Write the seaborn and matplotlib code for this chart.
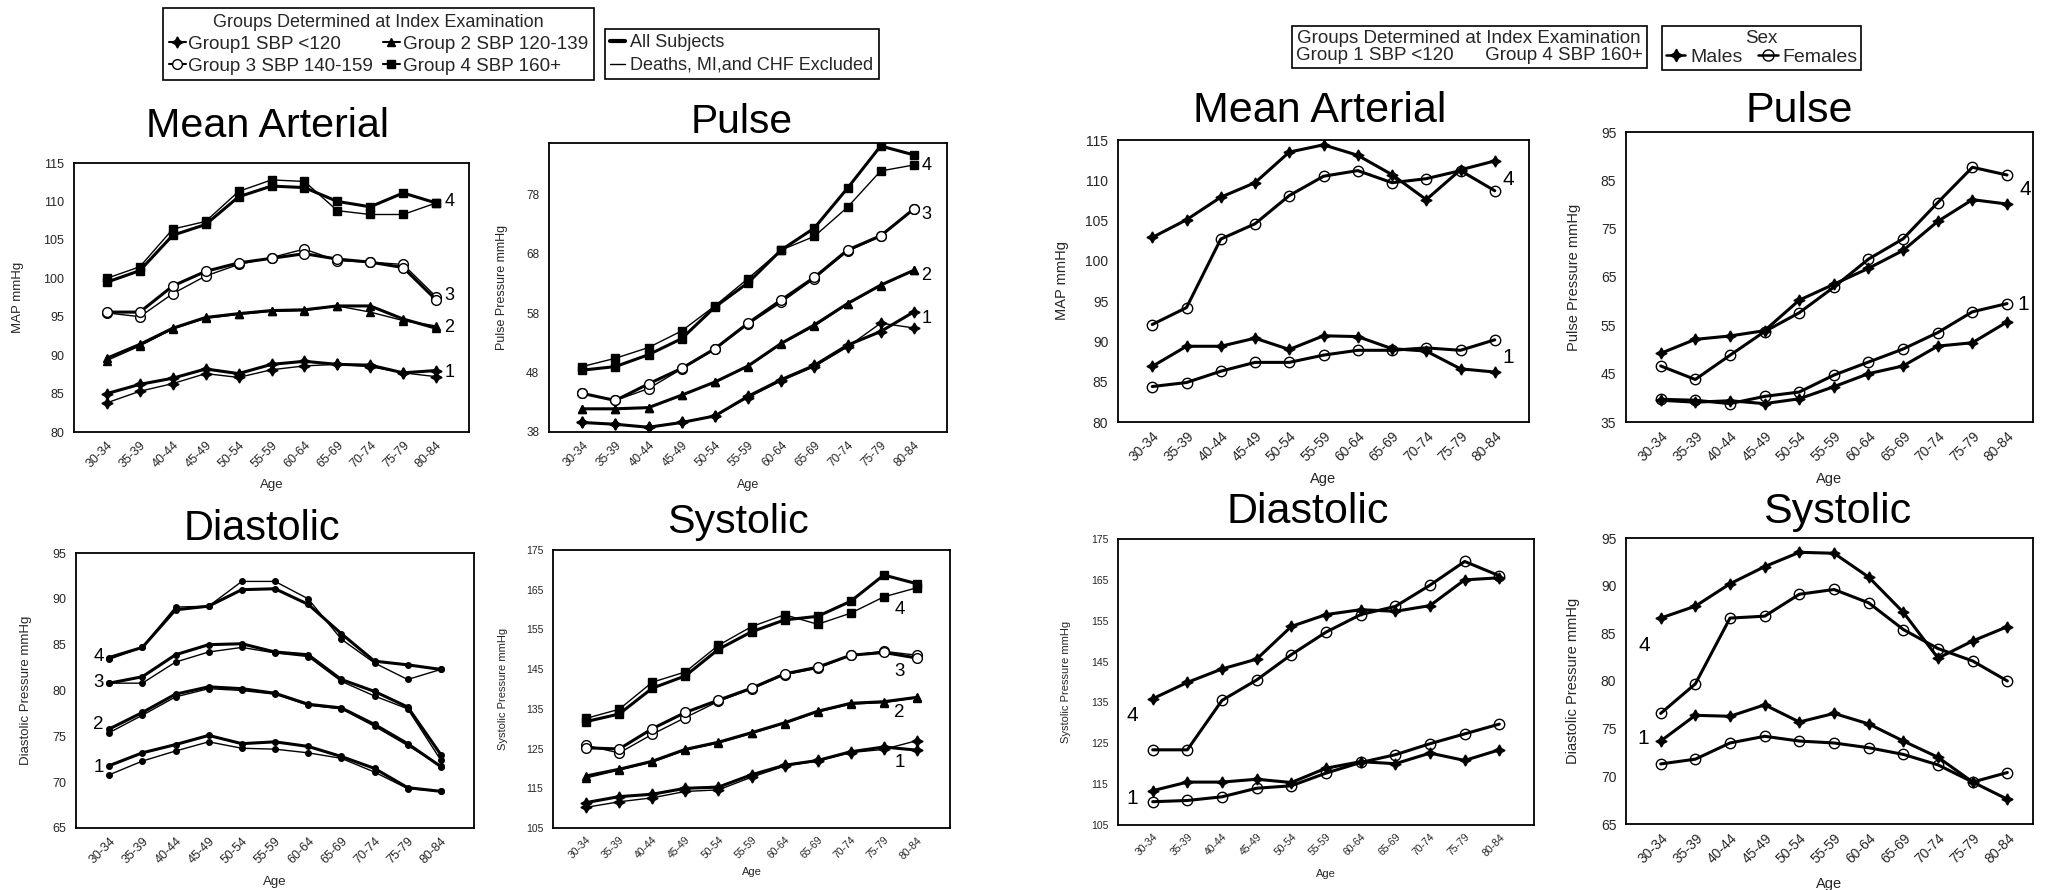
import numpy as np
import pandas as pd
import matplotlib
matplotlib.use("Agg")
import matplotlib.pyplot as plt
from matplotlib.lines import Line2D
import seaborn as sns

# ---------------- data ----------------
AGES = ["30-34", "35-39", "40-44", "45-49", "50-54", "55-59",
        "60-64", "65-69", "70-74", "75-79", "80-84"]

# Left figure: groups 1..4, "All Subjects" (thick) and "Deaths, MI, CHF excluded" (thin)
MAP_ALL = [
    [85.0, 86.2, 87.0, 88.2, 87.6, 88.8, 89.2, 88.8, 88.7, 87.7, 88.0],
    [89.6, 91.4, 93.5, 94.9, 95.4, 95.8, 95.9, 96.4, 96.4, 94.7, 93.5],
    [95.6, 95.6, 99.0, 100.9, 102.0, 102.6, 103.2, 102.5, 102.1, 101.4, 97.2],
    [99.5, 101.0, 105.6, 107.0, 110.6, 112.0, 111.8, 110.0, 109.3, 111.1, 109.8],
]
MAP_EXC = [
    [83.8, 85.3, 86.3, 87.6, 87.1, 88.1, 88.6, 88.8, 88.5, 87.7, 87.2],
    [89.3, 91.2, 93.4, 94.8, 95.3, 95.7, 95.8, 96.4, 95.6, 94.5, 93.8],
    [95.5, 95.0, 98.0, 100.3, 101.8, 102.7, 103.8, 102.3, 102.1, 101.8, 97.6],
    [100.0, 101.5, 106.4, 107.4, 111.3, 112.8, 112.6, 108.8, 108.3, 108.3, 109.8],
]
PP_ALL = [
    [39.6, 39.3, 38.8, 39.6, 40.7, 44.0, 46.8, 49.2, 52.6, 54.9, 58.2],
    [41.9, 41.9, 42.1, 44.2, 46.4, 49.1, 52.9, 56.0, 59.6, 62.7, 65.2],
    [44.5, 43.3, 46.1, 48.7, 52.0, 56.3, 60.2, 64.0, 68.6, 71.0, 75.5],
    [48.4, 49.0, 51.0, 53.7, 59.0, 63.1, 68.6, 72.3, 79.0, 86.1, 84.6],
]
PP_EXC = [
    [39.6, 39.3, 38.8, 39.6, 40.7, 43.8, 46.6, 49.0, 52.3, 56.3, 55.5],
    [41.9, 41.9, 42.1, 44.2, 46.4, 49.0, 52.8, 55.8, 59.5, 62.6, 65.2],
    [44.5, 43.3, 45.3, 48.6, 51.9, 56.1, 59.8, 63.8, 68.4, 70.9, 75.5],
    [49.0, 50.4, 52.2, 55.0, 59.2, 63.8, 68.6, 70.9, 75.8, 81.9, 82.9],
]
DBP_ALL = [
    [71.8, 73.2, 74.1, 75.1, 74.2, 74.4, 73.9, 72.8, 71.5, 69.4, 69.0],
    [75.8, 77.6, 79.6, 80.4, 80.2, 79.7, 78.5, 78.1, 76.3, 74.2, 71.7],
    [80.8, 81.5, 83.9, 85.0, 85.1, 84.2, 83.9, 81.2, 79.9, 78.2, 73.0],
    [83.6, 84.7, 88.8, 89.2, 91.0, 91.1, 89.4, 86.2, 83.2, 82.8, 82.3],
]
DBP_EXC = [
    [70.8, 72.3, 73.4, 74.4, 73.7, 73.6, 73.2, 72.6, 71.1, 69.3, 69.0],
    [75.4, 77.3, 79.3, 80.2, 80.0, 79.6, 78.4, 78.0, 76.1, 74.0, 71.8],
    [80.8, 80.8, 83.1, 84.2, 84.7, 84.1, 83.7, 81.0, 79.4, 78.0, 72.4],
    [83.4, 84.7, 89.1, 89.2, 91.9, 91.9, 90.0, 85.6, 83.0, 81.2, 82.3],
]
SBP_ALL = [
    [111.4, 112.9, 113.5, 115.0, 115.3, 118.4, 120.8, 122.0, 124.2, 125.4, 124.6],
    [118.1, 119.8, 121.8, 124.8, 126.6, 129.0, 131.5, 134.4, 136.4, 136.8, 137.9],
    [125.2, 124.9, 130.0, 134.1, 137.2, 140.2, 143.8, 145.5, 148.5, 149.2, 147.8],
    [131.8, 133.7, 140.2, 143.3, 150.0, 154.4, 157.4, 158.3, 162.1, 168.7, 166.5],
]
SBP_EXC = [
    [110.2, 111.6, 112.6, 114.2, 114.6, 117.8, 120.6, 121.9, 124.0, 124.8, 127.0],
    [117.6, 119.6, 121.6, 124.6, 126.4, 128.8, 131.3, 134.2, 136.2, 136.6, 137.8],
    [125.8, 123.9, 128.6, 132.8, 136.9, 140.0, 143.6, 145.2, 148.5, 149.5, 148.5],
    [132.6, 134.9, 141.7, 144.3, 151.0, 155.7, 158.7, 156.3, 159.1, 163.2, 165.5],
]

# Right figure: groups 1 and 4 by sex
R_MAP_M1 = [86.9, 89.4, 89.4, 90.4, 89.0, 90.7, 90.6, 89.1, 88.8, 86.6, 86.2]
R_MAP_F1 = [84.4, 84.9, 86.3, 87.4, 87.4, 88.3, 88.9, 88.9, 89.2, 88.9, 90.2]
R_MAP_M4 = [102.9, 105.1, 107.9, 109.7, 113.5, 114.4, 113.1, 110.7, 107.6, 111.3, 112.4]
R_MAP_F4 = [92.1, 94.2, 102.7, 104.6, 108.1, 110.5, 111.2, 109.7, 110.2, 111.2, 108.7]

R_PP_M1 = [39.5, 39.1, 39.4, 38.8, 39.8, 42.3, 45.0, 46.6, 50.7, 51.4, 55.7]
R_PP_F1 = [39.7, 39.5, 38.8, 40.3, 41.2, 44.7, 47.4, 50.1, 53.5, 57.8, 59.5]
R_PP_M4 = [49.2, 52.1, 52.8, 53.9, 60.2, 63.5, 66.8, 70.5, 76.5, 81.0, 80.1]
R_PP_F4 = [46.6, 43.8, 48.8, 53.7, 57.6, 62.9, 68.7, 72.9, 80.4, 87.7, 86.1]

R_SBP_M1 = [113.4, 115.5, 115.5, 116.2, 115.4, 118.9, 120.5, 120.0, 122.6, 120.8, 123.4]
R_SBP_F1 = [110.7, 111.0, 111.9, 114.0, 114.6, 117.7, 120.3, 122.2, 124.9, 127.3, 129.7]
R_SBP_M4 = [135.9, 139.9, 143.2, 145.6, 153.6, 156.5, 157.7, 157.3, 158.7, 165.0, 165.5]
R_SBP_F4 = [123.4, 123.4, 135.5, 140.5, 146.7, 152.2, 156.5, 158.5, 163.7, 169.5, 166.0]

R_DBP_M1 = [73.7, 76.4, 76.3, 77.5, 75.7, 76.6, 75.5, 73.7, 72.0, 69.4, 67.6]
R_DBP_F1 = [71.3, 71.8, 73.5, 74.2, 73.7, 73.5, 73.0, 72.3, 71.2, 69.4, 70.4]
R_DBP_M4 = [86.6, 87.85, 90.2, 92.0, 93.5, 93.4, 90.9, 87.2, 82.4, 84.2, 85.7]
R_DBP_F4 = [76.6, 79.7, 86.6, 86.8, 89.1, 89.6, 88.2, 85.4, 83.4, 82.1, 80.0]

GROUP_LABELS = ["Group1 SBP <120", "Group 2 SBP 120-139",
                "Group 3 SBP 140-159", "Group 4 SBP 160+"]

# ---------------- style ----------------
sns.set_style("white")
plt.rcParams["font.family"] = ["Liberation Sans", "DejaVu Sans"]

W, H = 2049, 890
fig = plt.figure(figsize=(W / 100, H / 100), dpi=100)
fig.patch.set_facecolor("white")

X = np.arange(len(AGES))

STAR4 = (4, 1, 0)
GROUP_STYLE = [  # marker, facecolor, size
    (STAR4, "black", 8),
    ("^", "black", 6),
    ("o", "white", 7),
    ("s", "black", 6),
]


def add_axes_px(l, t, r, b):
    return fig.add_axes([l / W, 1 - b / H, (r - l) / W, (b - t) / H])


def draw_line(ax, vals, marker, mfc, ms, lw):
    df = pd.DataFrame({"age": X, "value": vals})
    sns.lineplot(data=df, x="age", y="value", ax=ax, color="black", lw=lw,
                 marker=marker, markersize=ms, markerfacecolor=mfc,
                 markeredgecolor="black", markeredgewidth=1.0,
                 estimator=None, sort=False, legend=False)


def style_axes(ax, ylim, yticks, ylabel, fs, ylab_x, xlab_y, xright=11.0):
    ax.set_xlim(-1, xright)
    ax.set_ylim(*ylim)
    ax.set_yticks(yticks)
    ax.set_yticklabels([str(t) for t in yticks], fontsize=fs)
    ax.set_xticks(X)
    ax.set_xticklabels(AGES, rotation=45, ha="right", rotation_mode="anchor",
                       fontsize=fs)
    ax.tick_params(axis="both", length=0)
    ax.tick_params(axis="y", pad=7)
    ax.tick_params(axis="x", pad=5)
    ax.set_ylabel(ylabel, fontsize=fs + 0.5)
    ax.set_xlabel("Age", fontsize=fs + 0.5)
    ax.yaxis.set_label_coords(ylab_x, 0.5)
    ax.xaxis.set_label_coords(0.5, xlab_y)
    for sp in ax.spines.values():
        sp.set_visible(True)
        sp.set_color("black")
        sp.set_linewidth(1.3)
    ax.grid(False)


def group_labels(ax, items, fs, ha):
    for txt, x, y in items:
        ax.text(x, y, txt, fontsize=fs, ha=ha, va="center", color="black")


def title(cx, baseline, text, fs):
    fig.text(cx / W, 1 - baseline / H, text, ha="center", va="baseline",
             fontsize=fs, color="black")


def left_panel(ax, all_vals, exc_vals, small_dots=False):
    for g in range(4):
        marker, mfc, ms = GROUP_STYLE[g]
        if small_dots:
            marker, mfc, ms = "o", "black", 4
        draw_line(ax, exc_vals[g], marker, mfc, ms, 1.0)
        draw_line(ax, all_vals[g], marker, mfc, ms, 2.2)


# ---- Left: Mean Arterial ----
ax = add_axes_px(74, 163, 469, 432)
left_panel(ax, MAP_ALL, MAP_EXC)
style_axes(ax, (80, 115), list(range(80, 116, 5)), "MAP mmHg", 9, -0.127, -0.175)
group_labels(ax, [("4", 10.25, 110.0), ("3", 10.25, 97.8), ("2", 10.25, 93.6),
                  ("1", 10.25, 87.7)], 13, "left")
title(267, 137, "Mean Arterial", 29.7)

# ---- Left: Pulse ----
ax = add_axes_px(549, 143, 947, 432)
left_panel(ax, PP_ALL, PP_EXC)
style_axes(ax, (38, 86.6), [38, 48, 58, 68, 78], "Pulse Pressure mmHg", 8.5,
           -0.104, -0.163)
group_labels(ax, [("4", 10.22, 82.9), ("3", 10.22, 74.5), ("2", 10.22, 64.4),
                  ("1", 10.22, 57.1)], 13, "left")
title(742, 133, "Pulse", 29.3)

# ---- Left: Diastolic ----
ax = add_axes_px(76, 553, 474, 828)
left_panel(ax, DBP_ALL, DBP_EXC, small_dots=True)
style_axes(ax, (65, 95), list(range(65, 96, 5)), "Diastolic Pressure mmHg", 9,
           -0.111, -0.175)
group_labels(ax, [("4", -0.17, 83.7), ("3", -0.17, 80.9), ("2", -0.17, 76.3),
                  ("1", -0.17, 71.6)], 13.5, "right")
title(262, 540, "Diastolic", 29.9)

# ---- Left: Systolic ----
ax = add_axes_px(553, 550, 950, 828)
left_panel(ax, SBP_ALL, SBP_EXC)
style_axes(ax, (105, 175), list(range(105, 176, 10)), "Systolic Pressure mmHg", 7.5,
           -0.114, -0.14)
group_labels(ax, [("4", 9.48, 160.0), ("3", 9.48, 144.3), ("2", 9.48, 134.1),
                  ("1", 9.48, 121.4)], 13.5, "center")
title(738, 533, "Systolic", 29.6)


# ---- Right panels ----
def right_panel(ax, m1, f1, m4, f4):
    for vals in (m4, m1):
        draw_line(ax, vals, STAR4, "black", 8, 2.2)
    for vals in (f4, f1):
        draw_line(ax, vals, "o", "none", 7.5, 2.2)


ax = add_axes_px(1118, 140, 1529, 422)
right_panel(ax, R_MAP_M1, R_MAP_F1, R_MAP_M4, R_MAP_F4)
style_axes(ax, (80, 115), list(range(80, 116, 5)), "MAP mmHg", 10, -0.12, -0.177)
group_labels(ax, [("4", 10.22, 110.1), ("1", 10.22, 88.0)], 15, "left")
title(1320, 122, "Mean Arterial", 31)

ax = add_axes_px(1626, 132, 2033, 422)
right_panel(ax, R_PP_M1, R_PP_F1, R_PP_M4, R_PP_F4)
style_axes(ax, (35, 95), list(range(35, 96, 10)), "Pulse Pressure mmHg", 10,
           -0.111, -0.172, xright=10.75)
group_labels(ax, [("4", 10.36, 83.2), ("1", 10.29, 59.4)], 15, "left")
title(1799, 122, "Pulse", 31)

ax = add_axes_px(1118, 539, 1534, 825)
right_panel(ax, R_SBP_M1, R_SBP_F1, R_SBP_M4, R_SBP_F4)
style_axes(ax, (105, 175), list(range(105, 176, 10)), "Systolic Pressure mmHg", 7.5,
           -0.113, -0.154)
group_labels(ax, [("4", -0.6, 131.8), ("1", -0.6, 111.5)], 15, "center")
title(1308, 523, "Diastolic", 31)

ax = add_axes_px(1626, 538, 2033, 824)
right_panel(ax, R_DBP_M1, R_DBP_F1, R_DBP_M4, R_DBP_F4)
style_axes(ax, (65, 95), list(range(65, 96, 5)), "Diastolic Pressure mmHg", 10,
           -0.113, -0.185, xright=10.74)
group_labels(ax, [("4", -0.48, 83.7), ("1", -0.5, 74.0)], 15, "center")
title(1837, 523, "Systolic", 31)

# ---------------- legends ----------------
gh = []
for g in range(4):
    marker, mfc, ms = GROUP_STYLE[g]
    gh.append(Line2D([], [], color="black", lw=1.5, marker=marker, mfc=mfc,
                     mec="black", ms=ms))
leg1 = fig.legend(handles=[gh[0], gh[2], gh[1], gh[3]],
                  labels=[GROUP_LABELS[0], GROUP_LABELS[2], GROUP_LABELS[1], GROUP_LABELS[3]],
                  ncol=2, title="Groups Determined at Index Examination",
                  loc="upper left", bbox_to_anchor=(163 / W, 1 - 8 / H),
                  frameon=True, fancybox=False, edgecolor="black", framealpha=1,
                  fontsize=13.6, title_fontsize=13, handlelength=0.9,
                  handletextpad=0.15, columnspacing=0.5, borderpad=0.3,
                  labelspacing=0.25, borderaxespad=0)
leg1.get_frame().set_linewidth(1.2)

leg2 = fig.legend(handles=[Line2D([], [], color="black", lw=3),
                           Line2D([], [], color="black", lw=1)],
                  labels=["All Subjects", "Deaths, MI,and CHF Excluded"],
                  loc="upper left", bbox_to_anchor=(605 / W, 1 - 29 / H),
                  frameon=True, fancybox=False, edgecolor="black", framealpha=1,
                  fontsize=13, handlelength=0.8, handletextpad=0.3,
                  borderpad=0.3, labelspacing=0.3, borderaxespad=0)
leg2.get_frame().set_linewidth(1.2)

fig.text(1469 / W, 1 - 47 / H,
         "Groups Determined at Index Examination\nGroup 1 SBP <120      Group 4 SBP 160+",
         ha="center", va="center", fontsize=13.5, linespacing=1.0,
         bbox=dict(boxstyle="square,pad=0.22", fc="white", ec="black", lw=1.2))

leg3 = fig.legend(handles=[Line2D([], [], color="black", lw=1.8, marker=STAR4,
                                  mfc="black", mec="black", ms=9),
                           Line2D([], [], color="black", lw=1.8, marker="o",
                                  mfc="none", mec="black", ms=8)],
                  labels=["Males", "Females"], ncol=2, title="Sex",
                  loc="upper left", bbox_to_anchor=(1662 / W, 1 - 26 / H),
                  frameon=True, fancybox=False, edgecolor="black", framealpha=1,
                  fontsize=14, title_fontsize=13.5, handlelength=1.0,
                  handletextpad=0.25, columnspacing=0.8, borderpad=0.2,
                  labelspacing=0.1, borderaxespad=0)
leg3.get_frame().set_linewidth(1.2)
leg3._legend_box.sep = 1

fig.savefig("out.png", dpi=100, facecolor="white")
